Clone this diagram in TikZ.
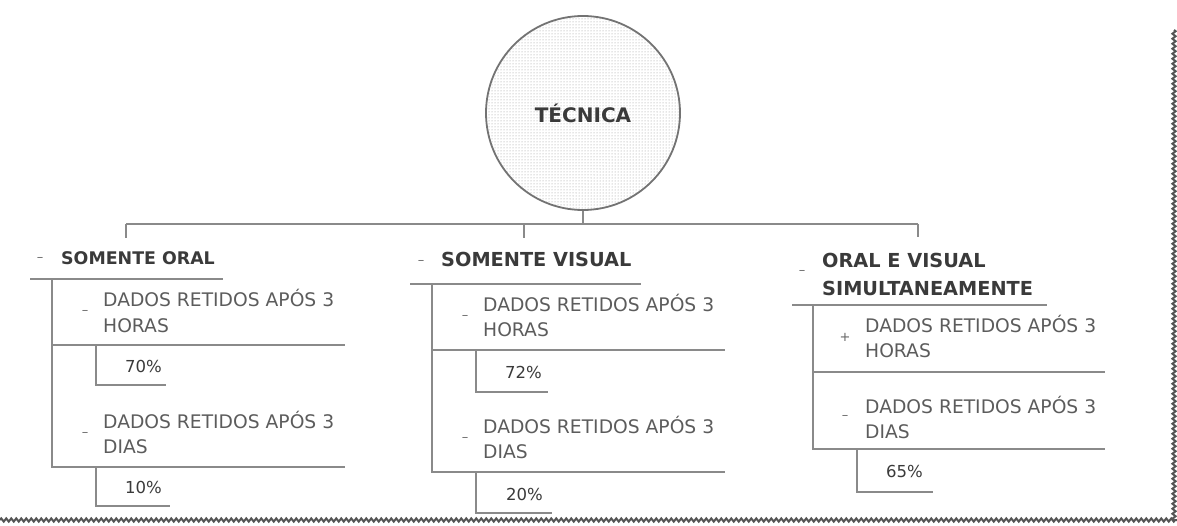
\documentclass[tikz,border=0pt]{standalone}
\usepackage{fontspec}
\setmainfont{DejaVu Sans}
\usetikzlibrary{positioning,patterns,decorations.pathmorphing}
\definecolor{linegray}{HTML}{8A8A8A}
\definecolor{txtgray}{HTML}{5C5C5C}
\definecolor{headgray}{HTML}{3A3A3A}
\definecolor{framegray}{HTML}{555555}

\begin{document}
\begin{tikzpicture}[x=1pt,y=-1pt,
	tree/.style={draw=linegray,line width=1.6pt},
	frame/.style={draw=framegray,line width=2pt,decorate,decoration={zigzag,segment length=5pt,amplitude=1.6pt}},
	root/.style={draw=gray!90!black,line width=1.8pt,circle,minimum size=194pt,pattern=dots,pattern color=gray!85,text=headgray,font=\bfseries\fontsize{20}{24}\selectfont},
	head/.style={anchor=base west,inner sep=0pt,align=left,text=headgray,font=\bfseries\fontsize{19.3}{28}\selectfont},
	headsm/.style={head,font=\bfseries\fontsize{17.4}{24}\selectfont},
	item/.style={anchor=base west,inner sep=0pt,align=left,text=txtgray,font=\fontsize{18.7}{25}\selectfont},
	pct/.style={anchor=base west,inner sep=0pt,text=headgray,font=\fontsize{16.5}{20}\selectfont},
	sign/.style={inner sep=0pt,text=gray!80!black,font=\fontsize{13}{14}\selectfont}]
		\useasboundingbox (0,0) rectangle (1177,526);
		% frame
		\coordinate (fa) at (0,520);
		\coordinate (fb) at (1177,520);
		\coordinate (fc) at (1174,30);
		\coordinate (fd) at (1174,520);
		\draw[frame] (fa) -- (fb);
		\draw[frame] (fc) -- (fd);

		% root and bar
		\node[root] (tec) at (583,113) {TÉCNICA};
		\coordinate (bar) at (583,224);
		\coordinate (barl) at (126,224);
		\coordinate (barm) at (524,224);
		\coordinate (barr) at (918,224);
		\draw[tree] (tec.south) -- (bar);
		\draw[tree] (barl) -- (barr);
		\draw[tree] (barl) -- ++(0,14);
		\draw[tree] (barm) -- ++(0,14);
		\draw[tree] (barr) -- ++(0,13);

		% somente oral
		\node[sign] (s1) at (40,259) {--};
		\node[headsm] (h1) at (61,265) {SOMENTE ORAL};
		\node[sign] (s11) at (85,312) {--};
		\node[item] (o1) at (103,332) {DADOS RETIDOS APÓS 3\\HORAS};
		\node[pct] (p11) at (125,372) {70\%};
		\node[sign] (s12) at (85,434) {--};
		\node[item] (o2) at (103,453) {DADOS RETIDOS APÓS 3\\DIAS};
		\node[pct] (p12) at (125,493) {10\%};
		\coordinate (u1a) at (30,279);
		\coordinate (u1b) at (223,279);
		\coordinate (v1) at (52,279);
		\coordinate (r11) at (345,345);
		\coordinate (r12) at (345,467);
		\coordinate (k11) at (96,345);
		\coordinate (e11) at (166,385);
		\coordinate (k12) at (96,467);
		\coordinate (e12) at (170,506);
		\draw[tree] (u1a) -- (u1b);
		\draw[tree] (v1) |- (r12);
		\draw[tree] (v1 |- r11) -- (r11);
		\draw[tree] (k11) |- (e11);
		\draw[tree] (k12) |- (e12);

		% somente visual
		\node[sign] (s2) at (421,262) {--};
		\node[head] (h2) at (441,267) {SOMENTE VISUAL};
		\node[sign] (s21) at (465,317) {--};
		\node[item] (v21) at (483,337) {DADOS RETIDOS APÓS 3\\HORAS};
		\node[pct] (p21) at (505,378) {72\%};
		\node[sign] (s22) at (465,439) {--};
		\node[item] (v22) at (483,458) {DADOS RETIDOS APÓS 3\\DIAS};
		\node[pct] (p22) at (506,500) {20\%};
		\coordinate (u2a) at (410,284);
		\coordinate (u2b) at (641,284);
		\coordinate (v2) at (432,284);
		\coordinate (r21) at (725,350);
		\coordinate (r22) at (725,472);
		\coordinate (k21) at (476,350);
		\coordinate (e21) at (548,392);
		\coordinate (k22) at (476,472);
		\coordinate (e22) at (552,513);
		\draw[tree] (u2a) -- (u2b);
		\draw[tree] (v2) |- (r22);
		\draw[tree] (v2 |- r21) -- (r21);
		\draw[tree] (k21) |- (e21);
		\draw[tree] (k22) |- (e22);

		% oral e visual
		\node[sign] (s3) at (802,272) {--};
		\node[head] (h3) at (822,296) {ORAL E VISUAL\\SIMULTANEAMENTE};
		\node[sign] (s31) at (845,337) {+};
		\node[item] (w31) at (865,357) {DADOS RETIDOS APÓS 3\\HORAS};
		\node[sign] (s32) at (845,417) {--};
		\node[item] (w32) at (865,438) {DADOS RETIDOS APÓS 3\\DIAS};
		\node[pct] (p32) at (886,477) {65\%};
		\coordinate (u3a) at (792,305);
		\coordinate (u3b) at (1047,305);
		\coordinate (v3) at (813,305);
		\coordinate (r31) at (1105,372);
		\coordinate (r32) at (1105,449);
		\coordinate (k32) at (857,449);
		\coordinate (e32) at (933,492);
		\draw[tree] (u3a) -- (u3b);
		\draw[tree] (v3) |- (r32);
		\draw[tree] (v3 |- r31) -- (r31);
		\draw[tree] (k32) |- (e32);
\end{tikzpicture}
\end{document}
